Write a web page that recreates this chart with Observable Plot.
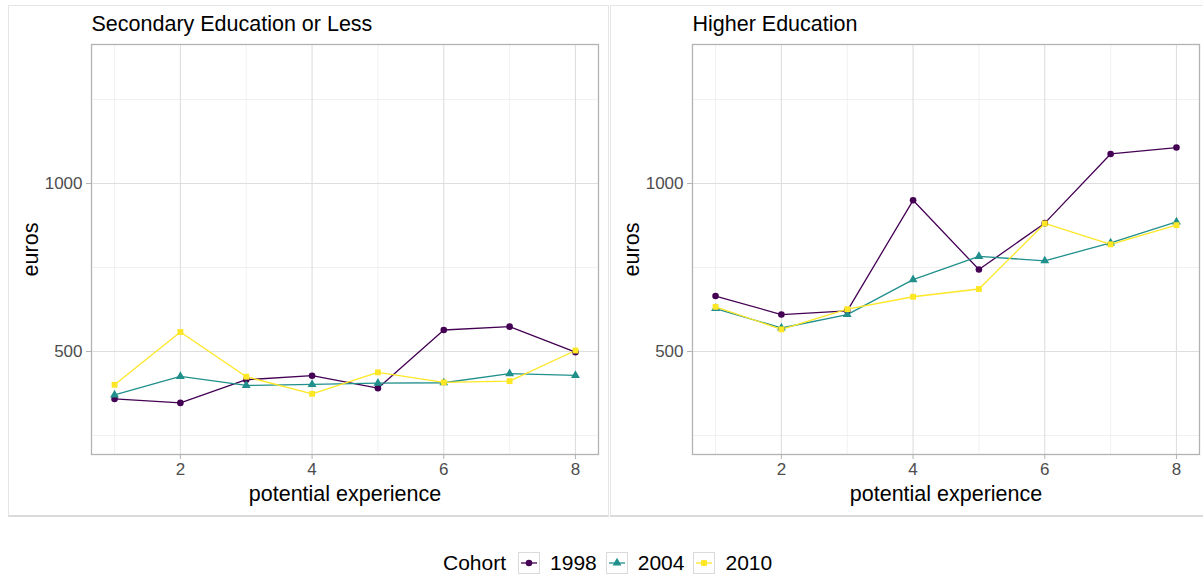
<!DOCTYPE html>
<html>
<head>
<meta charset="utf-8">
<script src="https://cdn.jsdelivr.net/npm/d3@7"></script>
<script src="https://cdn.jsdelivr.net/npm/@observablehq/plot@0.6"></script>
<style>
  html, body { margin: 0; padding: 0; background: #fff; }
  body { position: relative; width: 1203px; height: 574px; overflow: hidden;
         font-family: "Liberation Sans", Arial, Helvetica, sans-serif; }
  .box { position: absolute; box-sizing: border-box; border: 1px solid #E6E6E6; border-bottom: 2px solid #DADADA; }
  .panel { position: absolute; }
  .legend { position: absolute; top: 552px; left: 443px; display: flex; align-items: center;
            font-size: 21px; line-height: 22px; color: #000; white-space: nowrap; }
  .legend svg { display: block; }
</style>
</head>
<body>
<script>
// Potential experience (years) and cohorts
const experience = [1, 2, 3, 4, 5, 6, 7, 8];
const cohorts = ["1998", "2004", "2010"];

// Monthly wages (euros) – secondary education or less
const secondary1998 = [359, 347, 416, 428, 391, 564, 574, 498];
const secondary2004 = [371, 426, 399, 402, 406, 407, 434, 429];
const secondary2010 = [401, 558, 425, 374, 438, 408, 412, 503];

// Monthly wages (euros) – higher education
const higher1998 = [665, 610, 621, 950, 744, 882, 1088, 1107];
const higher2004 = [628, 570, 610, 714, 783, 770, 823, 886];
const higher2010 = [633, 566, 626, 663, 686, 881, 819, 876];

// Axis ticks and grid
const majorX = [2, 4, 6, 8];
const minorX = [1, 3, 5, 7];
const majorY = [500, 1000];
const minorY = [250, 750, 1250];

const colors = ["#440154", "#21908C", "#FDE725"];
const symbols = ["circle", "triangle", "square"];
const font = "'Liberation Sans', Arial, Helvetica, sans-serif";

function tidy(series) {
  return cohorts.flatMap((c, i) =>
    experience.map((e, j) => ({experience: e, euros: series[i][j], cohort: c})));
}

function panel(title, series, marginLeft, marginRight) {
  const rows = tidy(series);
  return Plot.plot({
    width: 600,
    height: 511,
    marginLeft,
    marginRight,
    marginTop: 39,
    marginBottom: 62,
    style: {fontFamily: font, fontSize: "17px", background: "transparent", overflow: "visible"},
    x: {domain: [0.65, 8.35]},
    y: {domain: [193.5, 1413.7]},
    color: {domain: cohorts, range: colors},
    symbol: {domain: cohorts, range: symbols},
    marks: [
      Plot.ruleX(minorX, {stroke: "#EBEBEB", strokeWidth: 0.7}),
      Plot.ruleY(minorY, {stroke: "#EBEBEB", strokeWidth: 0.7}),
      Plot.ruleX(majorX, {stroke: "#DEDEDE", strokeWidth: 1.1}),
      Plot.ruleY(majorY, {stroke: "#DEDEDE", strokeWidth: 1.1}),
      Plot.axisX({ticks: majorX, tickFormat: d => String(d), tickSize: 5, tickPadding: 3,
                  stroke: "#B3B3B3", fill: "#4D4D4D", label: null}),
      Plot.axisY({ticks: majorY, tickFormat: d => String(d), tickSize: 5, tickPadding: 4,
                  stroke: "#B3B3B3", fill: "#4D4D4D", label: null}),
      Plot.line(rows, {x: "experience", y: "euros", z: "cohort", stroke: "cohort", strokeWidth: 1.3}),
      Plot.dot(rows, {x: "experience", y: "euros", fill: "cohort", symbol: "cohort", r: 3.3}),
      Plot.frame({stroke: "#B3B3B3", strokeWidth: 1.3}),
      // panel title and axis titles
      Plot.text([title], {frameAnchor: "top-left", textAnchor: "start", lineAnchor: "middle",
                          dy: -20.7, fontSize: 21.5, fill: "#000"}),
      Plot.text(["euros"], {frameAnchor: "left", textAnchor: "middle", lineAnchor: "middle",
                            rotate: -90, dx: -60, fontSize: 21.5, fill: "#000"}),
      Plot.text(["potential experience"], {frameAnchor: "bottom", textAnchor: "middle", lineAnchor: "middle",
                                           dy: 40, fontSize: 21.5, fill: "#000"})
    ]
  });
}

function place(node, left, top) {
  node.classList.add("panel");
  node.style.left = left + "px";
  node.style.top = top + "px";
  document.body.appendChild(node);
}

function box(left, top, width, height) {
  const d = document.createElement("div");
  d.className = "box";
  Object.assign(d.style, {left: left + "px", top: top + "px", width: width + "px", height: height + "px"});
  document.body.appendChild(d);
}

box(8, 5, 601, 512);
box(610, 5, 601, 512);

place(panel("Secondary Education or Less", [secondary1998, secondary2004, secondary2010], 83, 10), 8, 5);
place(panel("Higher Education", [higher1998, higher2004, higher2010], 82, 11), 610, 5);

// Legend: Cohort keys (line + symbol)
const legend = document.createElement("div");
legend.className = "legend";
const head = document.createElement("span");
head.textContent = "Cohort";
head.style.marginRight = "12px";
legend.appendChild(head);
const d3symbols = {circle: d3.symbolCircle, triangle: d3.symbolTriangle, square: d3.symbolSquare};
cohorts.forEach((c, i) => {
  const svg = d3.create("svg").attr("width", 22).attr("height", 22);
  svg.append("rect").attr("x", 0.5).attr("y", 0.5).attr("width", 21).attr("height", 21)
    .attr("fill", "#fff").attr("stroke", "#DADADA");
  svg.append("line").attr("x1", 3).attr("x2", 19).attr("y1", 11).attr("y2", 11)
    .attr("stroke", colors[i]).attr("stroke-width", 1.3);
  svg.append("path").attr("transform", "translate(11,11)")
    .attr("d", d3.symbol(d3symbols[symbols[i]], Math.PI * 3.3 * 3.3)())
    .attr("fill", colors[i]);
  legend.appendChild(svg.node());
  const lab = document.createElement("span");
  lab.textContent = c;
  lab.style.marginLeft = "10px";
  lab.style.marginRight = i < cohorts.length - 1 ? "9px" : "0";
  legend.appendChild(lab);
});
document.body.appendChild(legend);
</script>
</body>
</html>
